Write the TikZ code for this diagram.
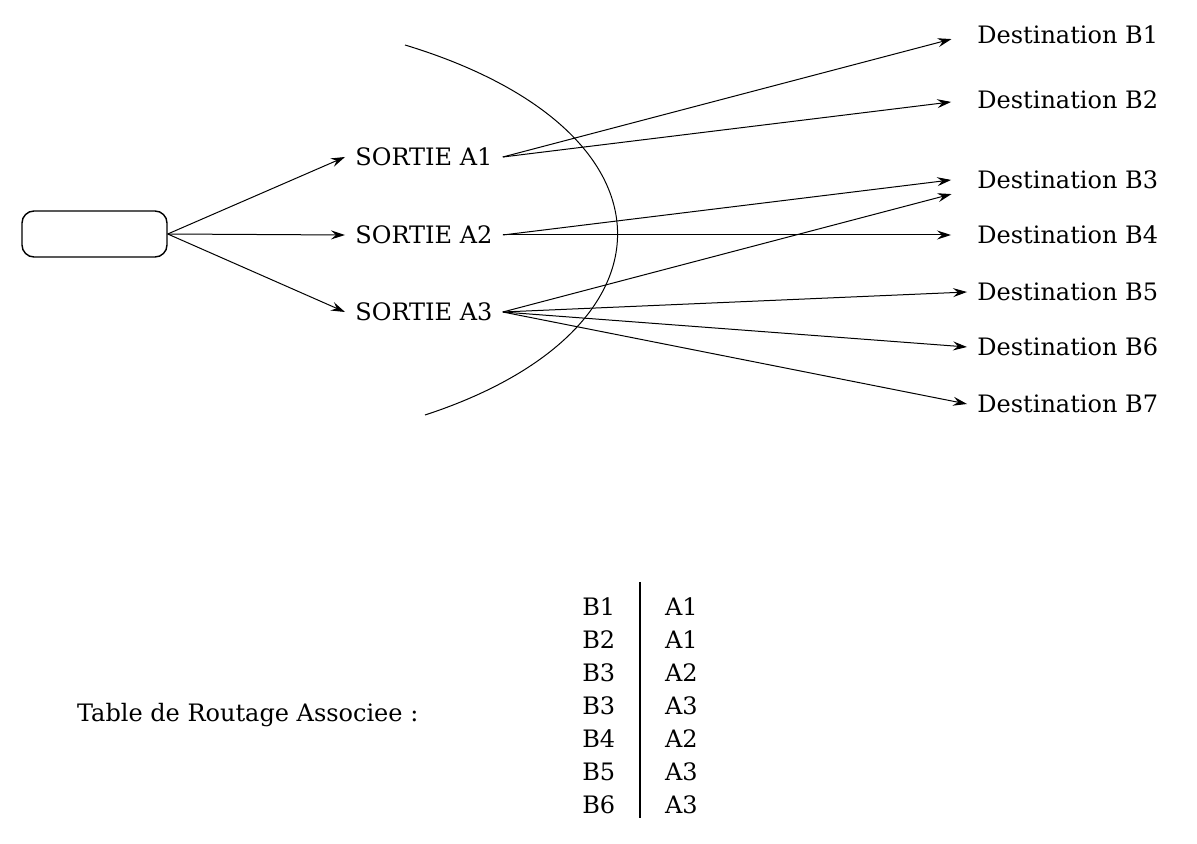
\documentclass[tikz,border=0pt]{standalone}
\usepackage{fontspec}
\setmainfont{DejaVu Serif}
\usepackage{tikz}
\usetikzlibrary{arrows.meta,positioning,matrix}
\tikzset{
  >={Stealth[length=7pt,width=4.5pt,inset=2.5pt]},
  flow/.style={->,draw=black,line width=.5pt},
  farflow/.style={flow,shorten >=8pt},
  srcbox/.style={draw,rounded corners=6pt,minimum width=72.5pt,minimum height=23pt,line width=.7pt},
  exitnode/.style={anchor=west,inner xsep=5pt},
  destnode/.style={anchor=west,inner xsep=5pt},
  cell/.style={minimum height=16.5pt,inner sep=0pt},
}

\begin{document}
\begin{tikzpicture}[x=.5pt,y=-.5pt,font=\fontsize{12pt}{14pt}\selectfont]
  \useasboundingbox (0,0) rectangle (1197,844);

  \node[srcbox] (src) at (94.5,234) {};
  \node[exitnode] (sA1) at (345,157) {SORTIE A1};
  \node[exitnode] (sA2) at (345,235) {SORTIE A2};
  \node[exitnode] (sA3) at (345,312) {SORTIE A3};

  \node[destnode] (dB1) at (967,35) {Destination B1};
  \node[destnode] (dB2) at (967,100) {Destination B2};
  \node[destnode] (dB3) at (967,180) {Destination B3};
  \node[destnode] (dB4) at (967,235) {Destination B4};
  \node[destnode] (dB5) at (967,292) {Destination B5};
  \node[destnode] (dB6) at (967,347) {Destination B6};
  \node[destnode] (dB7) at (967,404) {Destination B7};

  \draw[flow] (src.east) -- (sA1.west);
  \draw[flow] (src.east) -- (sA2.west);
  \draw[flow] (src.east) -- (sA3.west);

  \draw[farflow] (sA1.east) -- (dB1.west);
  \draw[farflow] (sA1.east) -- (dB2.west);
  \draw[farflow] (sA2.east) -- ([yshift=1pt]dB3.west);
  \draw[farflow] (sA2.east) -- (dB4.west);
  \draw[farflow] (sA3.east) -- ([yshift=-5pt]dB3.west);
  \draw[flow] (sA3.east) -- (dB5.west);
  \draw[flow] (sA3.east) -- (dB6.west);
  \draw[flow] (sA3.east) -- (dB7.west);

  % frontiere
  \draw[line width=.5pt] (405,45) .. controls (685,130) and (685,330) .. (425,415);

  % table
  \node[anchor=west] (tlabel) at (70,715) {Table de Routage Associee :};
  \matrix (routes) [matrix of nodes,nodes={cell},column sep=25pt,row sep=0pt,inner sep=0pt] at (640,706) {
    B1 & A1 \\
    B2 & A1 \\
    B3 & A2 \\
    B3 & A3 \\
    B4 & A2 \\
    B5 & A3 \\
    B6 & A3 \\
  };
  \draw[line width=.7pt] ([yshift=4pt]routes.north) -- ([yshift=2pt]routes.south);
\end{tikzpicture}
\end{document}
